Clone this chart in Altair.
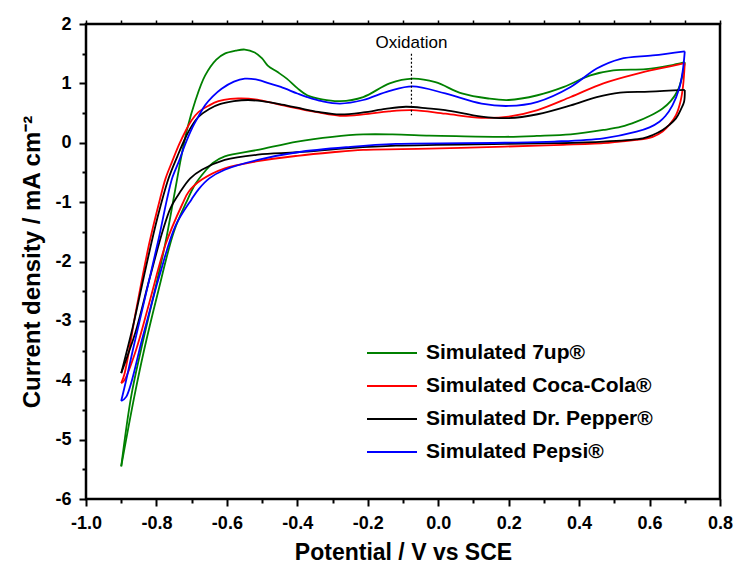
import altair as alt
import pandas as pd

series_names = ["Simulated 7up®", "Simulated Coca-Cola®", "Simulated Dr. Pepper®", "Simulated Pepsi®"]
series_colors = ["#008000", "#ff0000", "#000000", "#0000ff"]

# ---- Simulated 7up ----
up7_fwd_x = [-0.900, -0.872, -0.844, -0.807, -0.775, -0.750, -0.730, -0.712, -0.690, -0.662, -0.630, -0.606,
             -0.575, -0.549, -0.521, -0.500, -0.484, -0.456, -0.430, -0.400, -0.372, -0.330, -0.279, -0.213,
             -0.138, -0.073, -0.008, 0.067, 0.142, 0.200, 0.282, 0.357, 0.432, 0.497, 0.590, 0.656, 0.700]
up7_fwd_y = [-5.45, -4.28, -3.49, -2.55, -1.70, -0.90, -0.25, 0.25, 0.70, 1.13, 1.40, 1.50,
             1.55, 1.57, 1.52, 1.42, 1.30, 1.19, 1.08, 0.92, 0.80, 0.73, 0.70, 0.77,
             1.00, 1.08, 1.02, 0.83, 0.745, 0.72, 0.80, 0.94, 1.135, 1.22, 1.24, 1.30, 1.36]
up7_rev_x = [0.700, 0.692, 0.680, 0.660, 0.637, 0.600, 0.563, 0.520, 0.469, 0.376, 0.280, 0.189, 0.050,
             -0.026, -0.130, -0.213, -0.300, -0.400, -0.512, -0.606, -0.640, -0.662, -0.690, -0.715,
             -0.750, -0.797, -0.835, -0.863, -0.900]
up7_rev_y = [1.36, 1.10, 0.88, 0.70, 0.577, 0.45, 0.355, 0.27, 0.215, 0.142, 0.115, 0.10, 0.11,
             0.12, 0.14, 0.14, 0.10, 0.02, -0.12, -0.23, -0.34, -0.48, -0.70, -1.00,
             -1.49, -2.55, -3.49, -4.28, -5.45]

# ---- Simulated Coca-Cola ----
coke_fwd_x = [-0.900, -0.891, -0.858, -0.821, -0.790, -0.774, -0.755, -0.735, -0.718, -0.700, -0.680, -0.650,
              -0.624, -0.590, -0.559, -0.520, -0.484, -0.440, -0.400, -0.340, -0.279, -0.213, -0.140, -0.073,
              0.020, 0.123, 0.200, 0.282, 0.376, 0.469, 0.563, 0.637, 0.700]
coke_fwd_y = [-4.05, -3.90, -2.83, -1.71, -0.95, -0.60, -0.31, -0.02, 0.19, 0.38, 0.52, 0.63,
              0.70, 0.74, 0.745, 0.73, 0.69, 0.63, 0.58, 0.51, 0.455, 0.477, 0.53, 0.55,
              0.49, 0.42, 0.44, 0.55, 0.77, 1.00, 1.16, 1.26, 1.34]
coke_rev_x = [0.700, 0.695, 0.688, 0.675, 0.656, 0.637, 0.609, 0.563, 0.516, 0.469, 0.329, 0.189, -0.026,
              -0.213, -0.300, -0.400, -0.512, -0.606, -0.671, -0.708, -0.727, -0.774, -0.821, -0.858,
              -0.891, -0.900]
coke_rev_y = [1.34, 0.95, 0.70, 0.465, 0.30, 0.19, 0.10, 0.047, 0.02, -0.008, -0.04, -0.065, -0.10,
              -0.12, -0.16, -0.22, -0.31, -0.43, -0.62, -0.82, -1.04, -1.71, -2.71, -3.49,
              -4.00, -4.05]

# ---- Simulated Dr. Pepper ----
drp_fwd_x = [-0.900, -0.867, -0.830, -0.797, -0.765, -0.740, -0.718, -0.700, -0.680, -0.650, -0.620, -0.580,
             -0.540, -0.500, -0.450, -0.400, -0.340, -0.279, -0.213, -0.150, -0.092, -0.030, 0.020, 0.123,
             0.200, 0.282, 0.376, 0.450, 0.516, 0.600, 0.700]
drp_fwd_y = [-3.88, -3.10, -2.10, -1.26, -0.59, -0.22, 0.08, 0.28, 0.44, 0.57, 0.65, 0.70,
             0.72, 0.70, 0.65, 0.59, 0.52, 0.477, 0.51, 0.57, 0.606, 0.58, 0.55, 0.44,
             0.415, 0.48, 0.63, 0.77, 0.845, 0.86, 0.89]
drp_rev_x = [0.700, 0.698, 0.688, 0.675, 0.656, 0.637, 0.609, 0.581, 0.469, 0.329, 0.189, -0.120, -0.250,
             -0.400, -0.512, -0.606, -0.671, -0.704, -0.735, -0.760, -0.783, -0.820, -0.860, -0.900]
drp_rev_y = [0.89, 0.69, 0.55, 0.41, 0.30, 0.215, 0.13, 0.075, 0.02, -0.008, -0.02, -0.05, -0.09,
             -0.16, -0.20, -0.29, -0.455, -0.60, -0.85, -1.10, -1.50, -2.30, -3.20, -3.88]

# ---- Simulated Pepsi ----
pep_fwd_x = [-0.900, -0.886, -0.867, -0.830, -0.793, -0.770, -0.755, -0.736, -0.718, -0.699, -0.680, -0.662,
             -0.640, -0.615, -0.580, -0.549, -0.512, -0.480, -0.447, -0.400, -0.372, -0.330, -0.279, -0.213,
             -0.140, -0.073, 0.020, 0.123, 0.200, 0.282, 0.376, 0.450, 0.516, 0.609, 0.700]
pep_fwd_y = [-4.35, -4.00, -3.49, -2.55, -1.60, -0.95, -0.59, -0.31, -0.02, 0.243, 0.45, 0.63,
             0.78, 0.91, 1.03, 1.08, 1.06, 1.00, 0.94, 0.83, 0.77, 0.70, 0.66, 0.72,
             0.87, 0.95, 0.83, 0.66, 0.62, 0.69, 0.94, 1.25, 1.41, 1.47, 1.54]
pep_rev_x = [0.700, 0.694, 0.684, 0.665, 0.645, 0.628, 0.600, 0.563, 0.469, 0.329, 0.189, -0.120, -0.250,
             -0.400, -0.512, -0.606, -0.650, -0.680, -0.700, -0.746, -0.793, -0.839, -0.886, -0.900]
pep_rev_y = [1.54, 1.20, 0.91, 0.63, 0.45, 0.355, 0.26, 0.187, 0.075, 0.02, 0.00, -0.02, -0.07,
             -0.16, -0.29, -0.455, -0.60, -0.78, -0.95, -1.40, -2.27, -3.27, -4.28, -4.35]

x_tick_values = [-1.0, -0.9, -0.8, -0.7, -0.6, -0.5, -0.4, -0.3, -0.2, -0.1, 0.0,
                 0.1, 0.2, 0.3, 0.4, 0.5, 0.6, 0.7, 0.8]
y_tick_values = [-6, -5.5, -5, -4.5, -4, -3.5, -3, -2.5, -2, -1.5, -1, -0.5, 0, 0.5, 1, 1.5, 2]

annot_label = ["Oxidation"]
annot_x = [-0.076]
annot_text_y = [1.68]
annot_line_top = [1.50]
annot_line_bottom = [0.465]

curves = [
    (series_names[0], up7_fwd_x, up7_fwd_y, up7_rev_x, up7_rev_y),
    (series_names[1], coke_fwd_x, coke_fwd_y, coke_rev_x, coke_rev_y),
    (series_names[2], drp_fwd_x, drp_fwd_y, drp_rev_x, drp_rev_y),
    (series_names[3], pep_fwd_x, pep_fwd_y, pep_rev_x, pep_rev_y),
]
rows = []
for name, fx, fy, rx, ry in curves:
    for i, (a, b) in enumerate(zip(fx, fy)):
        rows.append({"series": name, "branch": name + " fwd", "idx": i, "potential": a, "current": b})
    for i, (a, b) in enumerate(zip(rx, ry)):
        rows.append({"series": name, "branch": name + " rev", "idx": i, "potential": a, "current": b})
df = pd.DataFrame(rows)

annot_df = pd.DataFrame({"label": annot_label, "ax": annot_x, "ty": annot_text_y,
                         "y1": annot_line_top, "y2": annot_line_bottom})

FONT = "Liberation Sans"
x_scale = alt.Scale(domain=[-1.0, 0.8], nice=False, zero=False)
y_scale = alt.Scale(domain=[-6, 2], nice=False, zero=False)

x_axis = alt.Axis(
    values=x_tick_values,
    labelExpr="abs(round(datum.value*10)) % 2 == 0 ? replace(format(datum.value, '.1f'), '\u2212', '-') : ''",
    tickSize={"condition": {"test": "abs(round(datum.value*10)) % 2 == 0", "value": 7}, "value": 4},
    tickWidth=2, tickColor="black", domain=False, grid=False,
    labelFont=FONT, labelFontSize=18, labelFontWeight="bold", labelColor="black", labelPadding=8,
    title="Potential / V vs SCE", titleFont=FONT, titleFontSize=23, titleFontWeight="bold",
    titleColor="black", titlePadding=9, labelFlush=False, labelOverlap=False,
)
y_axis = alt.Axis(
    values=y_tick_values,
    labelExpr="datum.value == round(datum.value) ? replace(format(datum.value, 'd'), '\u2212', '-') : ''",
    tickSize={"condition": {"test": "datum.value == round(datum.value)", "value": 7}, "value": 4},
    tickWidth=2, tickColor="black", domain=False, grid=False,
    labelFont=FONT, labelFontSize=18, labelFontWeight="bold", labelColor="black", labelPadding=8,
    title="Current density / mA cm\u207b\u00b2", titleFont=FONT, titleFontSize=24, titleFontWeight="bold",
    titleColor="black", titlePadding=10, labelFlush=False, labelOverlap=False,
)

lines = alt.Chart(df).mark_line(strokeWidth=1.8, interpolate="catmull-rom").encode(
    x=alt.X("potential:Q", scale=x_scale, axis=x_axis),
    y=alt.Y("current:Q", scale=y_scale, axis=y_axis),
    color=alt.Color(
        "series:N",
        scale=alt.Scale(domain=series_names, range=series_colors),
        legend=alt.Legend(
            orient="none", legendX=281, legendY=318, title=None,
            symbolType="M-2.5,0L2.5,0", symbolSize=400, symbolStrokeWidth=2,
            symbolOffset=14, labelOffset=23,
            labelFont=FONT, labelFontSize=21, labelFontWeight="bold", labelColor="black",
            rowPadding=12, labelLimit=0, padding=0,
        ),
    ),
    detail="branch:N",
    order="idx:Q",
)

annot_rule = alt.Chart(annot_df).mark_rule(color="black", strokeWidth=1.2, strokeDash=[2, 2]).encode(
    x=alt.X("ax:Q", scale=x_scale,
            axis=alt.Axis(orient="top", values=x_tick_values, labels=False, ticks=True, tickSize=4,
                          tickWidth=1.5, tickColor="black", domain=False, grid=False, title=None)),
    y=alt.Y("y1:Q", scale=y_scale, axis=y_axis),
    y2="y2:Q",
)

annot_text = alt.Chart(annot_df).mark_text(font=FONT, fontSize=17, color="black", baseline="middle",
                                           align="center").encode(
    x=alt.X("ax:Q", scale=x_scale, axis=None),
    y=alt.Y("ty:Q", scale=y_scale, axis=y_axis),
    text="label:N",
)

chart = alt.layer(lines, annot_rule, annot_text).resolve_axis(x="independent").properties(
    width=634, height=475,
    autosize=alt.AutoSizeParams(type="none"),
    padding={"left": 78, "top": 16, "right": 14, "bottom": 65},
).configure_view(stroke="black", strokeWidth=2.5)

chart.save("out.html", embed_options={"renderer": "svg", "actions": False})
